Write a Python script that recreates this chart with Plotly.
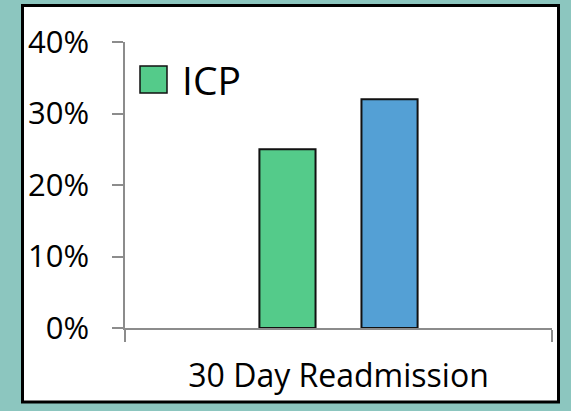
import plotly.graph_objects as go

# Data
categories = ["30 Day Readmission"]
icp_values = [0.25]
other_values = [0.32]
series_names = ["ICP", "Comparison"]
series_colors = ["#54CB8A", "#54A0D5"]
y_ticks = [0, 0.1, 0.2, 0.3, 0.4]

W, H = 571, 411
L, R, T, B = 125, 19, 42, 83
pw, ph = W - L - R, H - T - B


def px_x(x):
    return (x - L) / pw


def px_y(y):
    return (H - B - y) / ph


fig = go.Figure()
fig.add_trace(go.Bar(
    x=categories, y=icp_values, name=series_names[0],
    marker=dict(color=series_colors[0], line=dict(color="#111", width=2)),
    showlegend=False,
))
fig.add_trace(go.Bar(
    x=categories, y=other_values, name=series_names[1],
    marker=dict(color=series_colors[1], line=dict(color="#111", width=2)),
    showlegend=False,
))

axis_col = "#8c8c8c"
font = "Open Sans"

fig.update_layout(
    width=W, height=H,
    margin=dict(l=L, r=R, t=T, b=B),
    paper_bgcolor="#8CC6BF",
    plot_bgcolor="rgba(0,0,0,0)",
    barmode="group",
    bargap=0.522,
    bargroupgap=0.45,
    font=dict(family=font, color="black"),
    xaxis=dict(
        type="category", showline=True, linecolor=axis_col, linewidth=1.5,
        ticks="outside", tickson="boundaries", ticklen=12, tickcolor=axis_col,
        tickwidth=1.5, showgrid=False, tickfont=dict(size=32),
        ticklabelstandoff=19,
    ),
    yaxis=dict(
        range=[0, 0.4], tickvals=y_ticks, tickformat=".0%",
        showline=True, linecolor=axis_col, linewidth=1.5,
        ticks="outside", ticklen=11, tickcolor=axis_col, tickwidth=1.5,
        showgrid=False, zeroline=False, tickfont=dict(size=31),
        ticklabelstandoff=17,
    ),
    shapes=[
        # white panel with black frame
        dict(type="rect", xref="paper", yref="paper", layer="below",
             x0=px_x(22.5), x1=px_x(558.5), y0=px_y(402), y1=px_y(5.5),
             fillcolor="white", line=dict(color="black", width=3)),
        # x axis line extension through the y tick
        dict(type="line", xref="paper", yref="paper",
             x0=px_x(113), x1=0, y0=0, y1=0,
             line=dict(color=axis_col, width=1.5)),
        # legend key
        dict(type="rect", xref="paper", yref="paper",
             x0=px_x(140), x1=px_x(167), y0=px_y(93), y1=px_y(66),
             fillcolor=series_colors[0], line=dict(color="#111", width=1.5)),
    ],
    annotations=[
        dict(text=series_names[0], xref="paper", yref="paper",
             x=px_x(180), y=px_y(79.5), xanchor="left", yanchor="middle",
             showarrow=False, font=dict(size=39, family=font, color="black")),
    ],
)

fig.write_html("out.html")
